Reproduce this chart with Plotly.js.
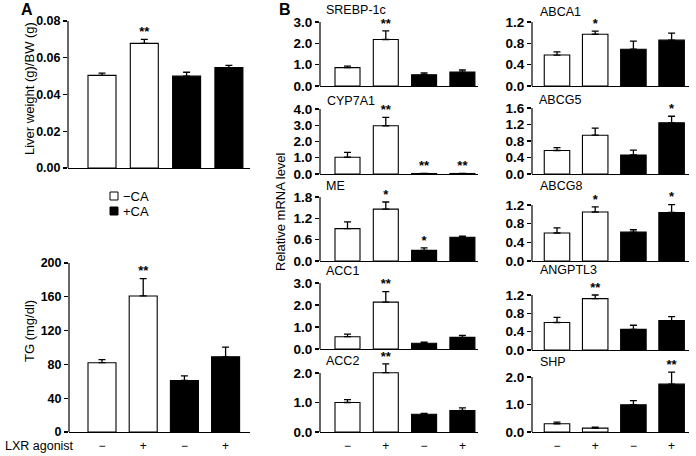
<!DOCTYPE html>
<html><head><meta charset="utf-8">
<script src="https://cdn.plot.ly/plotly-3.0.1.min.js"></script>
<style>html,body{margin:0;padding:0;background:#fff}#chart{width:696px;height:456px}</style>
</head><body><div id="chart"></div>
<script>
// ---------------- data ----------------
const groupLabels = ['−', '+', '−', '+'];
const groupX = [0, 1, 2, 3];
const legendLabels = ['−CA', '+CA'];
const xTitle = 'LXR agonist';

const liverWeight    = [0.0504, 0.0678, 0.0500, 0.0546];
const liverWeightErr = [0.0012, 0.0022, 0.0021, 0.0013];
const liverWeightSig = ['', '**', '', ''];

const tg    = [82, 161, 61, 89];
const tgErr = [3.6, 20.6, 5.5, 11.4];
const tgSig = ['', '**', '', ''];

const srebp1c    = [0.86, 2.18, 0.53, 0.65];
const srebp1cErr = [0.07, 0.40, 0.08, 0.10];
const srebp1cSig = ['', '**', '', ''];

const cyp7a1    = [1.03, 2.97, 0.03, 0.03];
const cyp7a1Err = [0.30, 0.52, 0.01, 0.01];
const cyp7a1Sig = ['', '**', '**', '**'];

const me    = [0.91, 1.46, 0.30, 0.67];
const meErr = [0.19, 0.20, 0.07, 0.03];
const meSig = ['', '*', '*', ''];

const acc1    = [0.56, 2.13, 0.26, 0.53];
const acc1Err = [0.12, 0.48, 0.05, 0.09];
const acc1Sig = ['', '**', '', ''];

const acc2    = [1.00, 2.01, 0.60, 0.73];
const acc2Err = [0.10, 0.30, 0.03, 0.09];
const acc2Sig = ['', '**', '', ''];

const abca1    = [0.58, 0.97, 0.69, 0.86];
const abca1Err = [0.06, 0.06, 0.15, 0.13];
const abca1Sig = ['', '*', '', ''];

const abcg5    = [0.57, 0.94, 0.46, 1.24];
const abcg5Err = [0.07, 0.17, 0.12, 0.16];
const abcg5Sig = ['', '', '', '*'];

const abcg8    = [0.60, 1.05, 0.62, 1.04];
const abcg8Err = [0.11, 0.11, 0.05, 0.17];
const abcg8Sig = ['', '*', '', '*'];

const angptl3    = [0.60, 1.12, 0.45, 0.64];
const angptl3Err = [0.11, 0.08, 0.09, 0.09];
const angptl3Sig = ['', '**', '', ''];

const shp    = [0.30, 0.14, 0.99, 1.74];
const shpErr = [0.06, 0.04, 0.15, 0.44];
const shpSig = ['', '', '', '**'];

const noMinus = [0, 0, 0, 0];

// ---------------- styles / layout geometry ----------------
const W = 696, H = 456;
const FONT = 'Liberation Sans, Arial, Helvetica, sans-serif';
const fills = ['#ffffff', '#ffffff', '#000000', '#000000'];
const EXT = 24; // extra headroom (px) above the top tick so error bars/stars are not clipped

const panels = [
  {name:'', y:liverWeight, e:liverWeightErr, s:liverWeightSig, max:0.08, dtick:0.02, fmt:'.2f',
   top:21, bot:168, left:68, right:250, c0:102, sp:42.3, bw:28, tf:12.5, xlab:false},
  {name:'', y:tg, e:tgErr, s:tgSig, max:200, dtick:40, fmt:'d',
   top:263, bot:432, left:69, right:250, c0:102, sp:41.2, bw:28, tf:12.5, xlab:true},
  {name:'SREBP-1c', y:srebp1c, e:srebp1cErr, s:srebp1cSig, max:3, dtick:1, fmt:'.1f',
   top:22, bot:86, left:320, right:478, c0:347.5, sp:38.3, bw:25, tf:13.5, xlab:false, ty:10, tx:324},
  {name:'CYP7A1', y:cyp7a1, e:cyp7a1Err, s:cyp7a1Sig, max:4, dtick:1, fmt:'.1f',
   top:109, bot:174, left:320, right:478, c0:347.5, sp:38.3, bw:25, tf:13.5, xlab:false, ty:101, tx:325},
  {name:'ME', y:me, e:meErr, s:meSig, max:1.8, dtick:0.6, fmt:'.1f',
   top:197, bot:261, left:320, right:478, c0:347.5, sp:38.3, bw:25, tf:13.5, xlab:false, ty:185.5, tx:324},
  {name:'ACC1', y:acc1, e:acc1Err, s:acc1Sig, max:3, dtick:1, fmt:'.1f',
   top:283, bot:349, left:320, right:478, c0:347.5, sp:38.3, bw:25, tf:13.5, xlab:false, ty:271, tx:324},
  {name:'ACC2', y:acc2, e:acc2Err, s:acc2Sig, max:2, dtick:1, fmt:'.1f',
   top:373, bot:432, left:320, right:478, c0:347.5, sp:38.3, bw:25, tf:13.5, xlab:true, ty:361, tx:324},
  {name:'ABCA1', y:abca1, e:abca1Err, s:abca1Sig, max:1.2, dtick:0.4, fmt:'.1f',
   top:22, bot:86, left:532, right:689, c0:557, sp:38.2, bw:25.5, tf:13.5, xlab:false, ty:12, tx:538},
  {name:'ABCG5', y:abcg5, e:abcg5Err, s:abcg5Sig, max:1.6, dtick:0.4, fmt:'.1f',
   top:108, bot:174, left:532, right:689, c0:557, sp:38.2, bw:25.5, tf:13.5, xlab:false, ty:100, tx:537},
  {name:'ABCG8', y:abcg8, e:abcg8Err, s:abcg8Sig, max:1.2, dtick:0.4, fmt:'.1f',
   top:205, bot:261, left:532, right:689, c0:557, sp:38.2, bw:25.5, tf:13.5, xlab:false, ty:185.5, tx:538},
  {name:'ANGPTL3', y:angptl3, e:angptl3Err, s:angptl3Sig, max:1.2, dtick:0.4, fmt:'.1f',
   top:295, bot:350, left:532, right:689, c0:557, sp:38.2, bw:25.5, tf:13.5, xlab:false, ty:270, tx:538},
  {name:'SHP', y:shp, e:shpErr, s:shpSig, max:2, dtick:1, fmt:'.1f',
   top:377, bot:432, left:532, right:689, c0:557, sp:38.2, bw:25.5, tf:13.5, xlab:true, ty:362, tx:538}
];

const data = [];
const layout = {
  width: W, height: H,
  margin: {l:0, r:0, t:0, b:0},
  paper_bgcolor: '#fff', plot_bgcolor: 'rgba(0,0,0,0)',
  showlegend: false,
  font: {family: FONT, color: '#000'},
  annotations: [], shapes: []
};

panels.forEach((p, i) => {
  const k = i === 0 ? '' : String(i + 1);
  const xa = 'x' + k, ya = 'y' + k;
  const topExt = Math.max(1, p.top - EXT);
  const rangeMax = p.max * (p.bot - topExt) / (p.bot - p.top);
  const nT = Math.round(p.max / p.dtick);
  const tv = [];
  for (let t = 0; t <= nT; t++) tv.push(t * p.dtick);

  data.push({
    type: 'bar', x: groupX, y: p.y, xaxis: xa, yaxis: ya,
    width: p.bw / p.sp,
    marker: {color: fills, line: {color: '#000', width: 1.1}},
    error_y: {type: 'data', symmetric: false, array: p.e, arrayminus: noMinus,
              color: '#000', thickness: 1.3, width: 3.5},
    cliponaxis: false, hoverinfo: 'skip'
  });
  data.push({
    type: 'scatter', mode: 'text', x: groupX,
    y: p.y.map((v, j) => v + p.e[j]),
    text: p.s, textposition: 'top center',
    textfont: {family: FONT, size: 13, weight: 'bold', color: '#000'},
    xaxis: xa, yaxis: ya, cliponaxis: false, hoverinfo: 'skip'
  });
  layout['xaxis' + k] = {
    domain: [p.left / W, p.right / W],
    range: [(p.left - p.c0) / p.sp, (p.right - p.c0) / p.sp],
    anchor: ya, showline: true, linecolor: '#000', linewidth: 1.2,
    showgrid: false, zeroline: false, ticks: '', fixedrange: true,
    tickvals: groupX, ticktext: groupLabels, showticklabels: p.xlab,
    ticklabelstandoff: 2,
    tickfont: {family: FONT, size: 12, color: '#000'}
  };
  layout['yaxis' + k] = {
    domain: [1 - p.bot / H, 1 - topExt / H],
    range: [0, rangeMax], tickmode: 'array', tickvals: tv, tickformat: p.fmt,
    anchor: xa, showline: false,
    showgrid: false, zeroline: false, ticks: 'outside', ticklen: 4, tickwidth: 1.1,
    tickcolor: '#000', fixedrange: true,
    tickfont: {family: FONT, size: p.tf, weight: 'bold', color: '#000'}
  };
  // y axis line only up to the top tick
  layout.shapes.push({
    type: 'line', xref: xa + ' domain', yref: ya, x0: 0, x1: 0, y0: 0, y1: p.max,
    line: {color: '#000', width: 1.2}
  });
  if (p.name) {
    layout.annotations.push({
      text: p.name, xref: 'paper', yref: 'paper', x: p.tx / W, y: 1 - p.ty / H,
      xanchor: 'left', yanchor: 'middle', showarrow: false,
      font: {family: FONT, size: 12.5, color: '#000'}
    });
  }
});

function ann(text, x, y, opts) {
  layout.annotations.push(Object.assign({
    text: text, xref: 'paper', yref: 'paper', x: x / W, y: 1 - y / H,
    showarrow: false, xanchor: 'center', yanchor: 'middle',
    font: {family: FONT, size: 13, color: '#000'}
  }, opts || {}));
}
ann('A', 27, 10, {font: {family: FONT, size: 16, weight: 'bold', color: '#000'}});
ann('B', 285, 10, {font: {family: FONT, size: 16, weight: 'bold', color: '#000'}});
ann('Liver weight (g)/BW (g)', 29, 89, {textangle: -90});
ann('TG (mg/dl)', 29, 331, {textangle: -90});
ann('Relative mRNA level', 280, 212, {textangle: -90});
ann(xTitle, 3, 446, {xanchor: 'left', font: {family: FONT, size: 12.5, color: '#000'}});

// legend
const legendRows = [196, 211];
legendLabels.forEach((lab, j) => {
  layout.shapes.push({
    type: 'rect', xref: 'paper', yref: 'paper',
    x0: 110 / W, x1: 118 / W, y0: 1 - (legendRows[j] + 4) / H, y1: 1 - (legendRows[j] - 4) / H,
    fillcolor: j === 0 ? '#fff' : '#000', line: {color: '#000', width: 1}
  });
  ann(lab, 121, legendRows[j], {xanchor: 'left'});
});

Plotly.newPlot('chart', data, layout, {staticPlot: true, displayModeBar: false});
</script>
</body></html>
